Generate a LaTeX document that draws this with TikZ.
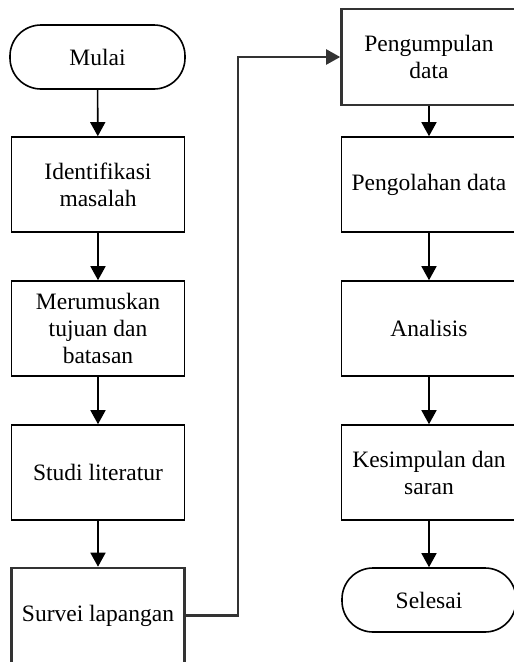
\documentclass[tikz,border=0pt]{standalone}
\usepackage{fontspec}
\setmainfont{Liberation Serif}
\usetikzlibrary{arrows.meta}
\tikzset{
  stepbox/.style={draw, line width=1.6pt, minimum width=173pt, minimum height=95pt, align=center, inner sep=2pt},
  thickbox/.style={stepbox, line width=2.6pt, draw=black!80},
  terminal/.style={draw, line width=1.6pt, rounded corners=31pt, minimum width=175pt, minimum height=64pt},
  flow/.style={line width=1.6pt, -{Triangle[width=15pt,length=14pt]}}
}

\begin{document}
\begin{tikzpicture}[x=1pt,y=-1pt,font=\fontsize{23.5}{27}\selectfont]
			%%%%% START %%%%%
			\useasboundingbox (0, 0) rectangle (514, 662);
			\begin{scope}
			\clip (0, 0) rectangle (514, 662);
			
			% left column
			\node[terminal] (mulai) at (97.5, 57) {Mulai};
			\node[stepbox] (identifikasi) at (98, 184.5) {Identifikasi\\masalah};
			\node[stepbox] (merumuskan) at (98, 328.5) {Merumuskan\\tujuan dan\\batasan};
			\node[stepbox] (studi) at (98, 472.5) {Studi literatur};
			\node[thickbox] (survei) at (98, 615.5) {Survei lapangan};
			
			% right column
			\node[thickbox, minimum width=175pt, minimum height=96pt] (pengumpulan) at (429, 57) {Pengumpulan\\data};
			\node[stepbox, minimum width=175pt] (pengolahan) at (429, 184.5) {Pengolahan data};
			\node[stepbox, minimum width=175pt] (analisis) at (429, 328.5) {Analisis};
			\node[stepbox, minimum width=175pt] (kesimpulan) at (429, 472.5) {Kesimpulan dan\\saran};
			\node[terminal, minimum width=174pt] (selesai) at (429, 600) {Selesai};
			
			\draw[flow] (mulai) -- (identifikasi);
			\draw[flow] (identifikasi) -- (merumuskan);
			\draw[flow] (merumuskan) -- (studi);
			\draw[flow] (studi) -- (survei);
			
			\coordinate (belok) at (238, 615.5);
			\draw[flow, line width=2.2pt, draw=black!80] (survei.east) -- (belok) |- (pengumpulan.west);
			
			\draw[flow] (pengumpulan) -- (pengolahan);
			\draw[flow] (pengolahan) -- (analisis);
			\draw[flow] (analisis) -- (kesimpulan);
			\draw[flow] (kesimpulan) -- (selesai);
			\end{scope}
			%%%%% END %%%%%
\end{tikzpicture}
\end{document}
